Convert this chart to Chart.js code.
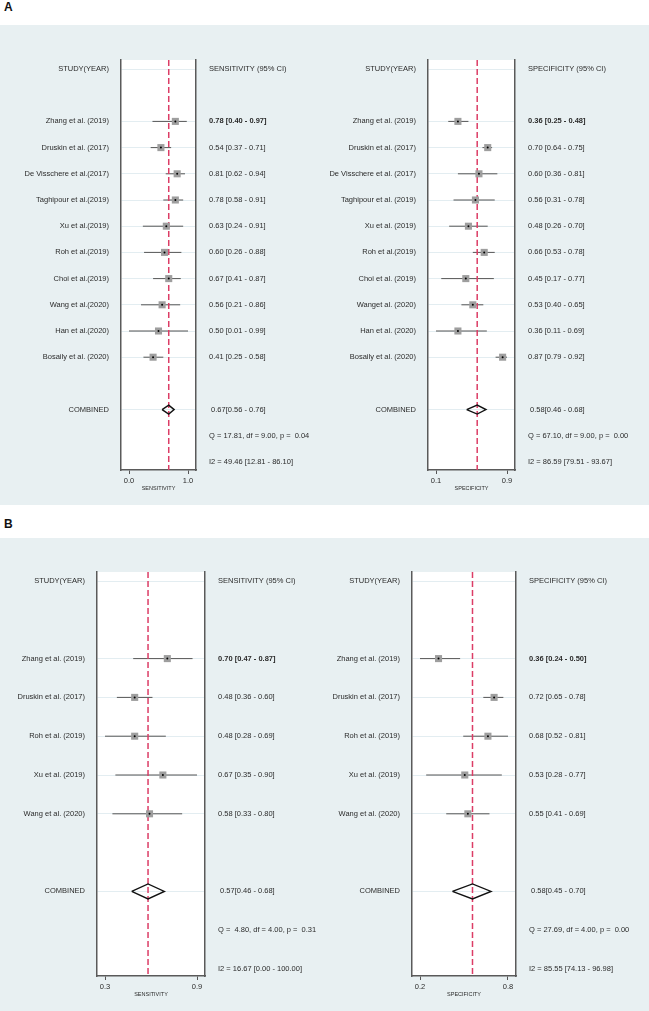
<!DOCTYPE html>
<html>
<head>
<meta charset="utf-8">
<script src="https://cdn.jsdelivr.net/npm/chart.js@4.4.0/dist/chart.umd.min.js"></script>
<style>
  body { margin: 0; background: #fff; width: 649px; height: 1011px; position: relative; overflow: hidden; font-family: "Liberation Sans", Arial, sans-serif; }
  .bg { position: absolute; left: 0; width: 649px; background: #e8f0f2; }
  .tag { position: absolute; left: 4px; font-weight: bold; font-size: 12px; color: #111; }
  canvas { position: absolute; }
</style>
</head>
<body>
<div class="bg" style="top:25px;height:480px"></div>
<div class="bg" style="top:538px;height:473px"></div>
<div class="tag" style="top:0px">A</div>
<div class="tag" style="top:517px">B</div>
<canvas id="aSens" width="320" height="479" style="left:0;top:26px"></canvas>
<canvas id="aSpec" width="329" height="479" style="left:320px;top:26px"></canvas>
<canvas id="bSens" width="320" height="473" style="left:0;top:538px"></canvas>
<canvas id="bSpec" width="329" height="473" style="left:320px;top:538px"></canvas>
<script>
// ---- panel A, sensitivity
const studiesASens = ['Zhang et al. (2019)', 'Druskin et al. (2017)', 'De Visschere et al.(2017)', 'Taghipour et al.(2019)',
  'Xu et al.(2019)', 'Roh et al.(2019)', 'Choi et al.(2019)', 'Wang et al.(2020)', 'Han et al.(2020)', 'Bosaily et al. (2020)'];
const sensA   = [0.78, 0.54, 0.81, 0.78, 0.63, 0.60, 0.67, 0.56, 0.50, 0.41];
const sensALo = [0.40, 0.37, 0.62, 0.58, 0.24, 0.26, 0.41, 0.21, 0.01, 0.25];
const sensAHi = [0.97, 0.71, 0.94, 0.91, 0.91, 0.88, 0.87, 0.86, 0.99, 0.58];
const pooledSensA = [0.67, 0.56, 0.76];
const qSensA  = [17.81, 9.00, 0.04];
const i2SensA = [49.46, 12.81, 86.10];
const ticksSensA = ['0.0', '1.0'];

// ---- panel A, specificity
const studiesASpec = ['Zhang et al. (2019)', 'Druskin et al. (2017)', 'De Visschere et al. (2017)', 'Taghipour et al. (2019)',
  'Xu et al. (2019)', 'Roh et al.(2019)', 'Choi et al. (2019)', 'Wanget al. (2020)', 'Han et al. (2020)', 'Bosaily et al. (2020)'];
const specA   = [0.36, 0.70, 0.60, 0.56, 0.48, 0.66, 0.45, 0.53, 0.36, 0.87];
const specALo = [0.25, 0.64, 0.36, 0.31, 0.26, 0.53, 0.17, 0.40, 0.11, 0.79];
const specAHi = [0.48, 0.75, 0.81, 0.78, 0.70, 0.78, 0.77, 0.65, 0.69, 0.92];
const pooledSpecA = [0.58, 0.46, 0.68];
const qSpecA  = [67.10, 9.00, 0.00];
const i2SpecA = [86.59, 79.51, 93.67];
const ticksSpecA = ['0.1', '0.9'];

// ---- panel B
const studiesB = ['Zhang et al. (2019)', 'Druskin et al. (2017)', 'Roh et al. (2019)', 'Xu et al. (2019)', 'Wang et al. (2020)'];
const sensB   = [0.70, 0.48, 0.48, 0.67, 0.58];
const sensBLo = [0.47, 0.36, 0.28, 0.35, 0.33];
const sensBHi = [0.87, 0.60, 0.69, 0.90, 0.80];
const pooledSensB = [0.57, 0.46, 0.68];
const qSensB  = [4.80, 4.00, 0.31];
const i2SensB = [16.67, 0.00, 100.00];
const ticksSensB = ['0.3', '0.9'];

const specB   = [0.36, 0.72, 0.68, 0.53, 0.55];
const specBLo = [0.24, 0.65, 0.52, 0.28, 0.41];
const specBHi = [0.50, 0.78, 0.81, 0.77, 0.69];
const pooledSpecB = [0.58, 0.45, 0.70];
const qSpecB  = [27.69, 4.00, 0.00];
const i2SpecB = [85.55, 74.13, 96.98];
const ticksSpecB = ['0.2', '0.8'];

Chart.defaults.font.family = "'Liberation Sans', Arial, sans-serif";
Chart.defaults.color = '#2b2b2b';

function f2(v) { return v.toFixed(2); }

// white plot region behind the grid
const whiteBox = {
  id: 'whiteBox',
  beforeDraw(chart) {
    const { ctx, chartArea: a } = chart;
    ctx.save();
    ctx.fillStyle = '#fff';
    ctx.fillRect(a.left, a.top, a.right - a.left, a.bottom - a.top);
    ctx.restore();
  }
};

function drawPanel(id, p) {
  const canvas = document.getElementById(id);
  const W = canvas.width, H = canvas.height;
  const boxW = W - p.leftW - p.rightW;
  const boxH = H - p.topPad - p.axisH;
  const minLo = Math.min(...p.lo), maxHi = Math.max(...p.hi);
  const xPad = (maxHi - minLo) * 8 / (boxW - 16);
  const yMin = -p.firstRowPx / p.rowPx;
  const yMax = yMin + boxH / p.rowPx;

  const n = p.studies.length;
  const studyRows = p.studies.map((s, i) => i + 2);
  const rowComb = n + 3, rowQ = n + 4, rowI2 = n + 5;

  const leftText = { 0: 'STUDY(YEAR)' };
  const rightText = { 0: p.header };
  studyRows.forEach((r, i) => {
    leftText[r] = p.studies[i];
    rightText[r] = f2(p.est[i]) + ' [' + f2(p.lo[i]) + ' - ' + f2(p.hi[i]) + ']';
  });
  leftText[rowComb] = 'COMBINED';
  rightText[rowComb] = ' ' + f2(p.pooled[0]) + '[' + f2(p.pooled[1]) + ' - ' + f2(p.pooled[2]) + ']';
  rightText[rowQ] = 'Q = ' + f2(p.q[0]).padStart(5) + ', df = ' + f2(p.q[1]) + ', p = ' + f2(p.q[2]).padStart(5);
  rightText[rowI2] = 'I2 = ' + f2(p.i2[0]) + ' [' + f2(p.i2[1]) + ' - ' + f2(p.i2[2]) + ']';
  const rows = [0, ...studyRows, rowComb, rowQ, rowI2];

  const ci = [];
  studyRows.forEach((r, i) => {
    ci.push({ x: p.lo[i], y: r }, { x: p.hi[i], y: r }, { x: null, y: null });
  });
  const pts = studyRows.map((r, i) => ({ x: p.est[i], y: r }));
  const dh = p.diamondPx / p.rowPx;
  const diamond = [
    { x: p.pooled[1], y: rowComb }, { x: p.pooled[0], y: rowComb - dh },
    { x: p.pooled[2], y: rowComb }, { x: p.pooled[0], y: rowComb + dh },
    { x: p.pooled[1], y: rowComb }
  ];
  const refLine = [{ x: p.pooled[0], y: yMin }, { x: p.pooled[0], y: yMax }];

  new Chart(canvas, {
    type: 'line',
    data: {
      datasets: [
        { data: pts, showLine: false, pointStyle: 'circle', pointRadius: 1, backgroundColor: '#000', borderWidth: 0, order: 0 },
        { data: pts, showLine: false, pointStyle: 'rect', pointRadius: 5, backgroundColor: '#9e9e9e', borderWidth: 0, order: 1 },
        { data: diamond, borderColor: '#111', borderWidth: 1.4, pointRadius: 0, tension: 0, fill: false, order: 2 },
        { data: refLine, borderColor: '#dc3d66', borderWidth: 1.5, borderDash: [6, 3], pointRadius: 0, order: 3 },
        { data: ci, borderColor: '#555', borderWidth: 1, pointRadius: 0, spanGaps: false, order: 4 }
      ]
    },
    options: {
      responsive: false,
      animation: false,
      events: [],
      layout: { padding: { top: p.topPad, left: 0, right: 0, bottom: 0 } },
      plugins: { legend: { display: false }, tooltip: { enabled: false } },
      scales: {
        x: {
          type: 'linear',
          min: minLo - xPad,
          max: maxHi + xPad,
          afterBuildTicks: s => { s.ticks = [{ value: minLo }, { value: maxHi }]; },
          afterFit: s => { s.height = p.axisH; },
          grid: { display: true, drawOnChartArea: false, drawTicks: true, tickLength: 4, color: '#555' },
          border: { display: true, color: '#5a5a5a', width: 1.5 },
          ticks: { autoSkip: false, maxRotation: 0, padding: 2, font: { size: 7.5 },
            callback: (v, i) => p.tickLabels[i] },
          title: { display: true, text: p.axisTitle, font: { size: 5.5 }, padding: { top: 0, bottom: 13 } }
        },
        y: {
          type: 'linear',
          position: 'left',
          reverse: true,
          min: yMin,
          max: yMax,
          afterBuildTicks: s => { s.ticks = rows.map(r => ({ value: r })); },
          afterFit: s => { s.width = p.leftW; },
          grid: { display: true, drawTicks: false, color: '#e3edf1', lineWidth: 1 },
          border: { display: true, color: '#5a5a5a', width: 1.5 },
          ticks: { autoSkip: false, padding: 12, font: { size: 7.5 },
            callback: v => leftText[v] }
        },
        y2: {
          type: 'linear',
          position: 'right',
          reverse: true,
          min: yMin,
          max: yMax,
          afterBuildTicks: s => { s.ticks = rows.map(r => ({ value: r })); },
          afterFit: s => { s.width = p.rightW; },
          grid: { display: false, drawTicks: false },
          border: { display: true, color: '#5a5a5a', width: 1.5 },
          ticks: { autoSkip: false, padding: 13,
            font: c => ({ size: 7.5, weight: (c.tick && c.tick.value === 2) ? 'bold' : 'normal' }),
            callback: v => rightText[v] }
        }
      }
    },
    plugins: [whiteBox]
  });
}

const layoutA = { topPad: 34, axisH: 35, firstRowPx: 9, rowPx: 26.2, diamondPx: 4.5 };
const layoutB = { topPad: 34, axisH: 35, firstRowPx: 9, rowPx: 38.8, diamondPx: 7.5 };

drawPanel('aSens', Object.assign({}, layoutA, { leftW: 121, rightW: 124,
  studies: studiesASens, est: sensA, lo: sensALo, hi: sensAHi, pooled: pooledSensA, q: qSensA, i2: i2SensA,
  header: 'SENSITIVITY (95% CI)', axisTitle: 'SENSITIVITY', tickLabels: ticksSensA }));
drawPanel('aSpec', Object.assign({}, layoutA, { leftW: 108, rightW: 134,
  studies: studiesASpec, est: specA, lo: specALo, hi: specAHi, pooled: pooledSpecA, q: qSpecA, i2: i2SpecA,
  header: 'SPECIFICITY (95% CI)', axisTitle: 'SPECIFICITY', tickLabels: ticksSpecA }));
drawPanel('bSens', Object.assign({}, layoutB, { leftW: 97, rightW: 115,
  studies: studiesB, est: sensB, lo: sensBLo, hi: sensBHi, pooled: pooledSensB, q: qSensB, i2: i2SensB,
  header: 'SENSITIVITY (95% CI)', axisTitle: 'SENSITIVITY', tickLabels: ticksSensB }));
drawPanel('bSpec', Object.assign({}, layoutB, { leftW: 92, rightW: 133,
  studies: studiesB, est: specB, lo: specBLo, hi: specBHi, pooled: pooledSpecB, q: qSpecB, i2: i2SpecB,
  header: 'SPECIFICITY (95% CI)', axisTitle: 'SPECIFICITY', tickLabels: ticksSpecB }));
</script>
</body>
</html>
